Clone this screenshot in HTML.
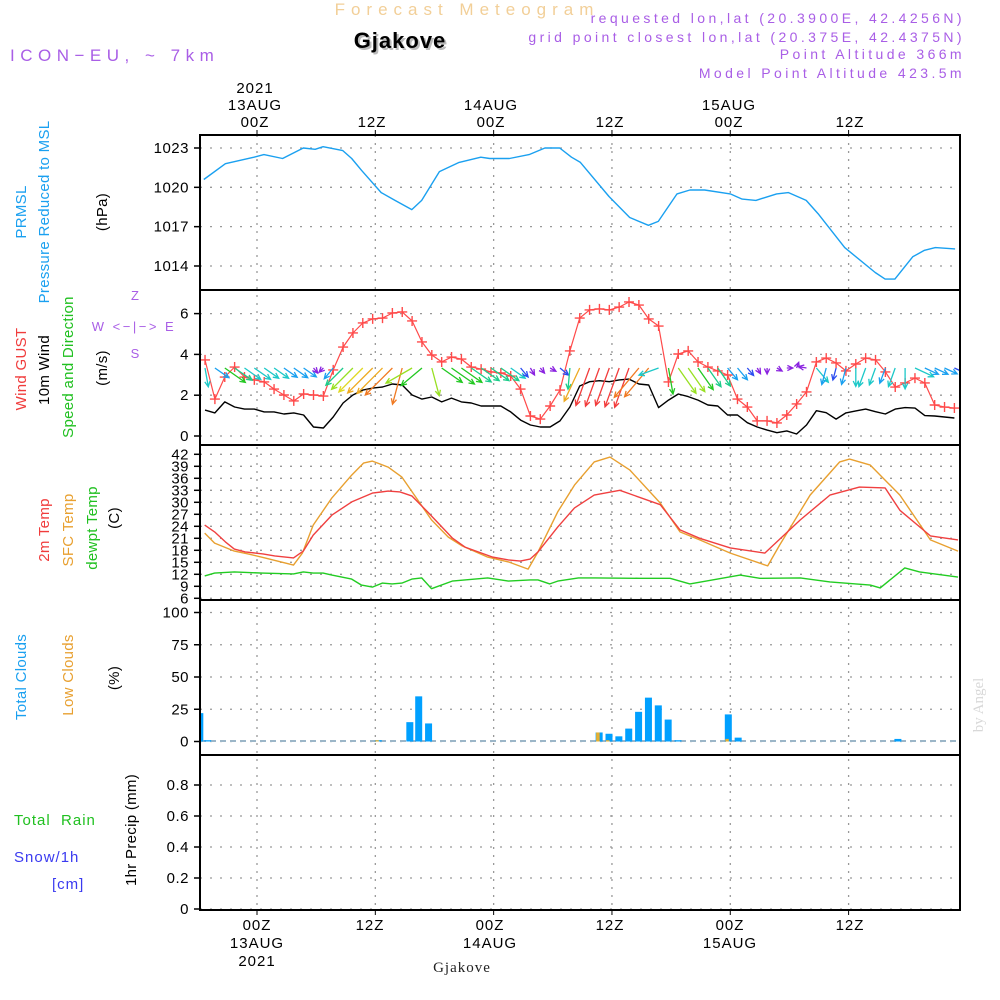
<!DOCTYPE html>
<html><head><meta charset="utf-8"><title>Meteogram Gjakove</title>
<style>
html,body{margin:0;padding:0;background:#fff;}
svg{display:block;font-family:"Liberation Sans",sans-serif;}
.tk{font-size:15px;fill:#000;text-anchor:end;letter-spacing:0.5px;}
.tl{font-size:15px;fill:#000;text-anchor:middle;letter-spacing:1px;}
.ti{font-size:15px;text-anchor:middle;letter-spacing:0.3px;}
</style></head>
<body>
<svg id="chart" width="1000" height="1000" viewBox="0 0 1000 1000">
<g id="grid"></g>
<g id="marks"></g>
<g id="frames"></g>
<g id="ticks"></g>

<text x="467" y="15" font-size="17" fill="#f2cf98" text-anchor="middle" letter-spacing="6">Forecast Meteogram</text>
<text x="402" y="50" font-size="22" font-weight="bold" fill="#bbb" text-anchor="middle" letter-spacing="1">Gjakove</text>
<text x="400" y="48" font-size="22" font-weight="bold" fill="#000" text-anchor="middle" letter-spacing="1">Gjakove</text>
<text x="10" y="61" font-size="17" fill="#a95ee6" letter-spacing="5.5">ICON−EU, ~ 7km</text>
<g font-size="14" fill="#a95ee6" text-anchor="end" letter-spacing="3.4">
<text x="965" y="23">requested lon,lat (20.3900E, 42.4256N)</text>
<text x="965" y="42">grid point closest lon,lat (20.375E, 42.4375N)</text>
<text x="965" y="59">Point Altitude 366m</text>
<text x="965" y="78">Model Point Altitude 423.5m</text>
</g>

<g>
<text class="tl" x="255" y="93">2021</text>
<text class="tl" x="255" y="110">13AUG</text>
<text class="tl" x="255" y="127">00Z</text>
<text class="tl" x="372" y="127">12Z</text>
<text class="tl" x="491" y="110">14AUG</text>
<text class="tl" x="491" y="127">00Z</text>
<text class="tl" x="610" y="127">12Z</text>
<text class="tl" x="729" y="110">15AUG</text>
<text class="tl" x="729" y="127">00Z</text>
<text class="tl" x="850" y="127">12Z</text>
</g>
<g>
<text class="tl" x="257" y="930">00Z</text>
<text class="tl" x="257" y="948">13AUG</text>
<text class="tl" x="257" y="966">2021</text>
<text class="tl" x="370" y="930">12Z</text>
<text class="tl" x="490" y="930">00Z</text>
<text class="tl" x="490" y="948">14AUG</text>
<text class="tl" x="610" y="930">12Z</text>
<text class="tl" x="730" y="930">00Z</text>
<text class="tl" x="730" y="948">15AUG</text>
<text class="tl" x="850" y="930">12Z</text>
<text x="462" y="972" font-family="Liberation Serif, serif" font-size="15" text-anchor="middle" letter-spacing="1" fill="#222">Gjakove</text>
</g>

<g>
<text class="ti" transform="translate(26,212) rotate(-90)" fill="#1aa0f0">PRMSL</text>
<text class="ti" transform="translate(49,212) rotate(-90)" fill="#1aa0f0">Pressure Reduced to MSL</text>
<text class="ti" transform="translate(107,212) rotate(-90)" fill="#000">(hPa)</text>
<text class="ti" transform="translate(26,369) rotate(-90)" fill="#f03c3c">Wind GUST</text>
<text class="ti" transform="translate(49,370) rotate(-90)" fill="#000">10m Wind</text>
<text class="ti" transform="translate(73,367) rotate(-90)" fill="#20c020">Speed and Direction</text>
<text class="ti" transform="translate(107,368) rotate(-90)" fill="#000">(m/s)</text>
<g font-size="13" fill="#a95ee6" text-anchor="middle">
<text x="135" y="300">Z</text>
<text x="134" y="331" letter-spacing="2.5">W &lt;−|−&gt; E</text>
<text x="135" y="358">S</text>
</g>
<text class="ti" transform="translate(49,530) rotate(-90)" fill="#f03c3c">2m Temp</text>
<text class="ti" transform="translate(73,530) rotate(-90)" fill="#e8a030">SFC Temp</text>
<text class="ti" transform="translate(97,528) rotate(-90)" fill="#20c020">dewpt Temp</text>
<text class="ti" transform="translate(119,518) rotate(-90)" fill="#000">(C)</text>
<text class="ti" transform="translate(26,677) rotate(-90)" fill="#1aa0f0">Total Clouds</text>
<text class="ti" transform="translate(73,675) rotate(-90)" fill="#e8a030">Low Clouds</text>
<text class="ti" transform="translate(119,678) rotate(-90)" fill="#000">(%)</text>
<text x="14" y="825" font-size="15" fill="#20c020" letter-spacing="1" xml:space="preserve">Total  Rain</text>
<text x="14" y="862" font-size="15" fill="#3a3af0" letter-spacing="1">Snow/1h</text>
<text x="52" y="889" font-size="15" fill="#3a3af0" letter-spacing="1">[cm]</text>
<text class="ti" transform="translate(136,830) rotate(-90)" fill="#000">1hr Precip (mm)</text>
<text transform="translate(983,705) rotate(-90)" font-family="Liberation Serif, serif" font-size="15" fill="#d8d8d8" text-anchor="middle">by Angel</text>
</g>
</svg>
<script>
// ---- data ----
var pressHours = [-5.4,-3.2,-0.3,0.7,2.6,4.7,5.9,6.7,8.7,9.6,10.6,12.6,14.0,15.7,16.7,18.5,20.5,22.7,23.6,24.6,25.6,27.6,29.2,30.7,31.9,32.8,35.7,37.8,39.7,40.7,42.6,43.9,45.4,48,49.2,50.6,52.7,53.9,55.7,56.9,59.6,62.7,63.7,64.7,66.5,67.7,68.8,70.8];
var pressVals = [1020.6,1021.8,1022.3,1022.5,1022.2,1023.0,1022.9,1023.1,1022.8,1022.2,1021.3,1019.6,1019.0,1018.3,1019.0,1021.2,1021.9,1022.3,1022.2,1022.2,1022.2,1022.5,1023.0,1023.0,1022.3,1021.9,1019.3,1017.7,1017.1,1017.4,1019.5,1019.8,1019.8,1019.5,1019.1,1019.0,1019.5,1019.6,1019.0,1018.0,1015.4,1013.5,1013.0,1013.0,1014.7,1015.2,1015.4,1015.3];
var pressTicks = [1023,1020,1017,1014];

var windStartHour = -5.27;
var gustVals = [3.73,1.81,2.89,3.38,2.89,2.75,2.65,2.30,2.01,1.72,2.06,2.01,1.96,3.24,4.36,5.05,5.54,5.74,5.78,6.03,6.08,5.64,4.61,3.97,3.63,3.87,3.77,3.38,3.28,3.14,3.09,2.94,2.30,0.98,0.83,1.47,2.25,4.17,5.78,
6.18,6.23,6.18,6.32,6.57,6.42,5.74,5.39,2.65,4.02,4.17,3.63,3.38,3.19,2.99,1.81,1.42,0.74,0.74,0.64,1.03,1.57,2.16,3.63,3.82,3.58,3.19,3.53,3.82,3.73,3.14,2.40,2.60,2.84,2.60,1.52,1.42,1.37];
var windVals = [1.27,1.13,1.67,1.42,1.32,1.32,1.18,1.18,1.08,1.13,1.03,0.44,0.39,0.93,1.62,2.01,2.25,2.35,2.40,2.55,2.50,2.01,1.81,1.91,1.67,1.86,1.67,1.62,1.47,1.47,1.47,1.18,0.78,0.54,0.44,0.44,0.74,1.42,2.45,
2.66,2.71,2.66,2.75,2.79,2.55,2.50,1.39,1.76,2.06,1.93,1.76,1.52,1.47,1.03,1.03,0.65,0.44,0.29,0.16,0.25,0.10,0.54,1.24,1.14,0.83,1.13,1.23,1.32,1.19,1.08,1.32,1.39,1.37,1.00,0.98,0.93,0.88];
var windDirs = [350,305,305,305,305,305,305,305,305,305,305,320,45,40,45,45,45,45,45,45,15,60,50,345,305,305,305,305,305,305,305,305,320,330,320,300,310,5,25,
20,20,20,20,20,40,40,70,350,325,325,325,325,325,320,320,320,330,0,300,270,200,100,320,15,15,15,0,20,20,20,20,0,295,295,295,295,295];
var windTicks = [0,2,4,6];

var t2Hours = [-5.3,-4.3,-3.2,-2.3,-1.2,0.6,1.8,3.7,4.7,5.7,7.6,9.6,11.7,13.3,14.5,15.7,17.3,19.8,21.1,23.9,25.5,26.7,27.7,28.5,30.5,32.2,34.2,36.8,40.9,42.9,44.9,48.0,51.5,55.1,58.1,61.1,63.7,65.2,68.3,71.1];
var t2Vals = [24.3,22.6,20.1,18.3,17.6,17.1,16.6,16.1,17.8,21.8,26.8,30.1,32.3,32.8,32.6,31.6,27.6,21.1,18.8,16.3,15.6,15.3,15.8,17.6,23.8,28.6,31.8,33.0,29.4,23.1,21.0,18.6,17.3,25.6,31.8,33.8,33.6,28.0,21.6,20.6];
var sfcHours = [-5.3,-4.3,-2.3,-0.9,0.8,3.7,4.6,5.7,7.6,9.6,10.8,11.7,13.3,14.7,16.3,17.7,19.4,20.8,23.4,25.5,27.5,28.5,30.5,32.2,34.2,35.8,37.8,40.9,42.9,44.9,48.0,51.8,53.0,56.1,59.1,60.1,62.2,65.2,68.3,71.1];
var sfcVals = [22.3,19.8,17.8,17.1,16.1,14.3,17.3,24.3,31.1,36.8,39.8,40.3,38.8,36.3,30.6,25.6,21.3,19.1,16.3,15.1,13.3,17.6,27.6,34.3,40.1,41.3,38.1,29.8,22.6,20.6,17.3,14.1,19.3,31.8,40.1,40.8,39.3,31.8,20.6,17.8];
var dewHours = [-5.3,-4.3,-2.3,0.5,3.7,4.7,5.7,6.7,7.6,9.6,10.6,11.7,12.7,13.7,14.7,15.7,16.7,17.7,19.8,23.4,25.5,27.7,28.5,29.7,30.5,32.6,34.3,38.8,41.9,43.9,49.0,51.0,55.1,58.1,62.2,63.2,65.7,67.2,71.1];
var dewVals = [11.6,12.3,12.6,12.3,12.1,12.6,12.3,12.3,11.8,10.8,9.3,8.8,9.8,9.6,9.8,10.8,11.1,8.4,10.3,11.1,10.3,10.6,10.6,9.6,10.3,11.1,11.1,11.0,11.0,9.6,11.8,11.0,11.1,10.1,9.3,8.6,13.6,12.6,11.3];
var tempTicks = [42,39,36,33,30,27,24,21,18,15,12,9,6];

var cloudHours = [-5.8,-5.0,12.3,15.5,16.4,17.4,34.7,35.7,36.7,37.7,38.7,39.7,40.7,41.7,42.7,47.8,48.8,65.0];
var cloudTotal = [22,1,1,15,35,14,7,6,4,10,23,34,28,17,1,21,3,2];
var cloudLow = [0,0,1,0,0,0,7,1,0,0,0,0,0,0,0,2,0,0];
var cloudTicks = [100,75,50,25,0];

var precipTicks = [0.8,0.6,0.4,0.2,0];
var precipTickLabels = ["0.8","0.6","0.4","0.2","0"];
var timeTickHours = [0,12,24,36,48,60];

// ---- scales ----
var X0 = 200, X1 = 960;
function xh(h){ return 257 + 9.86*h; }
function yPress(p){ return 148 + (1023 - p)*13.11; }
function yWind(v){ return 436 - 20.4*v; }
function yTemp(t){ return 454.3 + (42 - t)*4; }
function yCloud(c){ return 741.5 - 1.29*c; }
function yPrecip(p){ return 909 - 155*p; }

var NS = "http://www.w3.org/2000/svg";
function mk(tag, parent){ var e = document.createElementNS(NS, tag); parent.appendChild(e); return e; }
var gGrid = document.getElementById('grid');
var gMarks = document.getElementById('marks');
var gFrames = document.getElementById('frames');
var gTicks = document.getElementById('ticks');

var panels = [[135,290],[290,445],[445,600],[600,755],[755,910]];

var defs = mk('defs', document.getElementById('chart'));
var cp = mk('clipPath', defs); cp.setAttribute('id','plotclip');
var cr = mk('rect', cp); cr.setAttribute('x',X0); cr.setAttribute('y',135); cr.setAttribute('width',X1-X0); cr.setAttribute('height',775);
gMarks.setAttribute('clip-path','url(#plotclip)');

timeTickHours.forEach(function(h){
  var l = mk('line', gGrid);
  
  
  l.setAttribute('x1', xh(h)); l.setAttribute('x2', xh(h));
  l.setAttribute('y1', 135); l.setAttribute('y2', 910);
  l.setAttribute('stroke', '#999'); l.setAttribute('stroke-width', 1.3); l.setAttribute('stroke-dasharray', '2,6');
  var t1 = mk('line', gFrames);
  
  
  t1.setAttribute('x1', xh(h)); t1.setAttribute('x2', xh(h)); t1.setAttribute('y1', 130); t1.setAttribute('y2', 135);
  t1.setAttribute('stroke', '#000'); t1.setAttribute('stroke-width', 1);
  var t2 = mk('line', gFrames);
  
  
  t2.setAttribute('x1', xh(h)); t2.setAttribute('x2', xh(h)); t2.setAttribute('y1', 910); t2.setAttribute('y2', 915);
  t2.setAttribute('stroke', '#000'); t2.setAttribute('stroke-width', 1);
});

function hgrid(ys, labels){
  ys.forEach(function(y, i){
    var l = mk('line', gGrid);
    
    
    l.setAttribute('x1', X0); l.setAttribute('x2', X1); l.setAttribute('y1', y); l.setAttribute('y2', y);
    l.setAttribute('stroke', '#999'); l.setAttribute('stroke-width', 1.3); l.setAttribute('stroke-dasharray', '2,8');
    var tk = mk('line', gFrames);
    
    
    tk.setAttribute('x1', 194); tk.setAttribute('x2', 200); tk.setAttribute('y1', y); tk.setAttribute('y2', y);
    tk.setAttribute('stroke', '#000'); tk.setAttribute('stroke-width', 1.5);
    var t = mk('text', gTicks);
    
    
    t.setAttribute('class', 'tk'); t.setAttribute('x', 189); t.setAttribute('y', y + 5);
    t.textContent = labels[i];
  });
}
hgrid(pressTicks.map(yPress), pressTicks.map(String));
hgrid(windTicks.map(yWind), windTicks.map(String));
hgrid(tempTicks.map(yTemp), tempTicks.map(String));
hgrid(cloudTicks.map(yCloud), cloudTicks.map(String));
hgrid(precipTicks.map(yPrecip), precipTickLabels);

panels.forEach(function(p){
  var r = mk('rect', gFrames);
  
  
  r.setAttribute('x', X0); r.setAttribute('y', p[0]); r.setAttribute('width', X1 - X0); r.setAttribute('height', p[1] - p[0]);
  r.setAttribute('fill', 'none'); r.setAttribute('stroke', '#000'); r.setAttribute('stroke-width', 2);
});

function polyline(hours, vals, yf, color, name, w){
  var pts = hours.map(function(h, i){ return xh(h).toFixed(1) + ',' + yf(vals[i]).toFixed(1); }).join(' ');
  var pl = mk('polyline', gMarks);
  
  
  pl.setAttribute('points', pts); pl.setAttribute('fill', 'none');
  pl.setAttribute('stroke', color); pl.setAttribute('stroke-width', w || 1.4);
  pl.setAttribute('stroke-linejoin', 'round');
  return pl;
}

polyline(pressHours, pressVals, yPress, '#1aa0f0', 'pressure-line');

var windHours = windVals.map(function(v, i){ return windStartHour + i; });
polyline(windHours, windVals, yWind, '#000', 'wind-speed-line');
polyline(windHours, gustVals, yWind, '#ff4a4a', 'wind-gust-line', 1.2);
gustVals.forEach(function(v, i){
  var x = xh(windStartHour + i), y = yWind(v);
  var p = mk('path', gMarks);
  
  
  p.setAttribute('d', 'M' + (x-5) + ',' + y + 'H' + (x+5) + 'M' + x + ',' + (y-5) + 'V' + (y+5));
  p.setAttribute('stroke', '#ff4a4a'); p.setAttribute('stroke-width', 1.4);
});
function windColor(s){
  if (s < 0.6) return '#8a22e0';
  if (s < 0.9) return '#2a4cf0';
  if (s < 1.15) return '#1aa0f0';
  if (s < 1.4) return '#1cc8c8';
  if (s < 1.65) return '#1ccc8a';
  if (s < 1.9) return '#22c822';
  if (s < 2.1) return '#98e022';
  if (s < 2.3) return '#e0d822';
  if (s < 2.5) return '#eeaa22';
  if (s < 2.62) return '#f07a22';
  return '#f23c3c';
}
windVals.forEach(function(s, i){
  var x0 = xh(windStartHour + i), y0 = 368;
  var toDeg = (windDirs[i] + 180) * Math.PI / 180;
  var L = Math.max(6, 15 * s);
  var dx = Math.sin(toDeg), dy = -Math.cos(toDeg);
  var x1 = x0 + dx * L, y1 = y0 + dy * L;
  var a1 = toDeg + Math.PI - 0.45, a2 = toDeg + Math.PI + 0.45, hl = 6;
  var d = 'M' + x0.toFixed(1) + ',' + y0 + 'L' + x1.toFixed(1) + ',' + y1.toFixed(1) +
    'M' + (x1 + Math.sin(a1)*hl).toFixed(1) + ',' + (y1 - Math.cos(a1)*hl).toFixed(1) + 'L' + x1.toFixed(1) + ',' + y1.toFixed(1) +
    'L' + (x1 + Math.sin(a2)*hl).toFixed(1) + ',' + (y1 - Math.cos(a2)*hl).toFixed(1);
  var p = mk('path', gMarks);
  
  
  p.setAttribute('d', d); p.setAttribute('fill', 'none');
  p.setAttribute('stroke', windColor(s)); p.setAttribute('stroke-width', 1.3);
});

polyline(sfcHours, sfcVals, yTemp, '#e8a030', 'sfc-temp-line');
polyline(t2Hours, t2Vals, yTemp, '#f04040', 'temp-2m-line');
polyline(dewHours, dewVals, yTemp, '#22cc22', 'dewpoint-line');

var base = mk('line', gMarks);


base.setAttribute('x1', X0); base.setAttribute('x2', X1); base.setAttribute('y1', 741); base.setAttribute('y2', 741);
base.setAttribute('stroke', '#9cb6c8'); base.setAttribute('stroke-width', 2); base.setAttribute('stroke-dasharray', '6,4');
cloudHours.forEach(function(h, i){
  var x = xh(h);
  var r = mk('rect', gMarks);
  
  
  r.setAttribute('x', x - 3.5); r.setAttribute('width', 7);
  r.setAttribute('y', yCloud(cloudTotal[i])); r.setAttribute('height', yCloud(0) - yCloud(cloudTotal[i]));
  r.setAttribute('fill', '#00a0ff');
  if (cloudLow[i] > 0) {
    var r2 = mk('rect', gMarks);
    
    
    r2.setAttribute('x', x - 3); r2.setAttribute('width', 3.5);
    r2.setAttribute('y', yCloud(cloudLow[i])); r2.setAttribute('height', yCloud(0) - yCloud(cloudLow[i]));
    r2.setAttribute('fill', '#e8b030');
  }
});
</script>
</body></html>
